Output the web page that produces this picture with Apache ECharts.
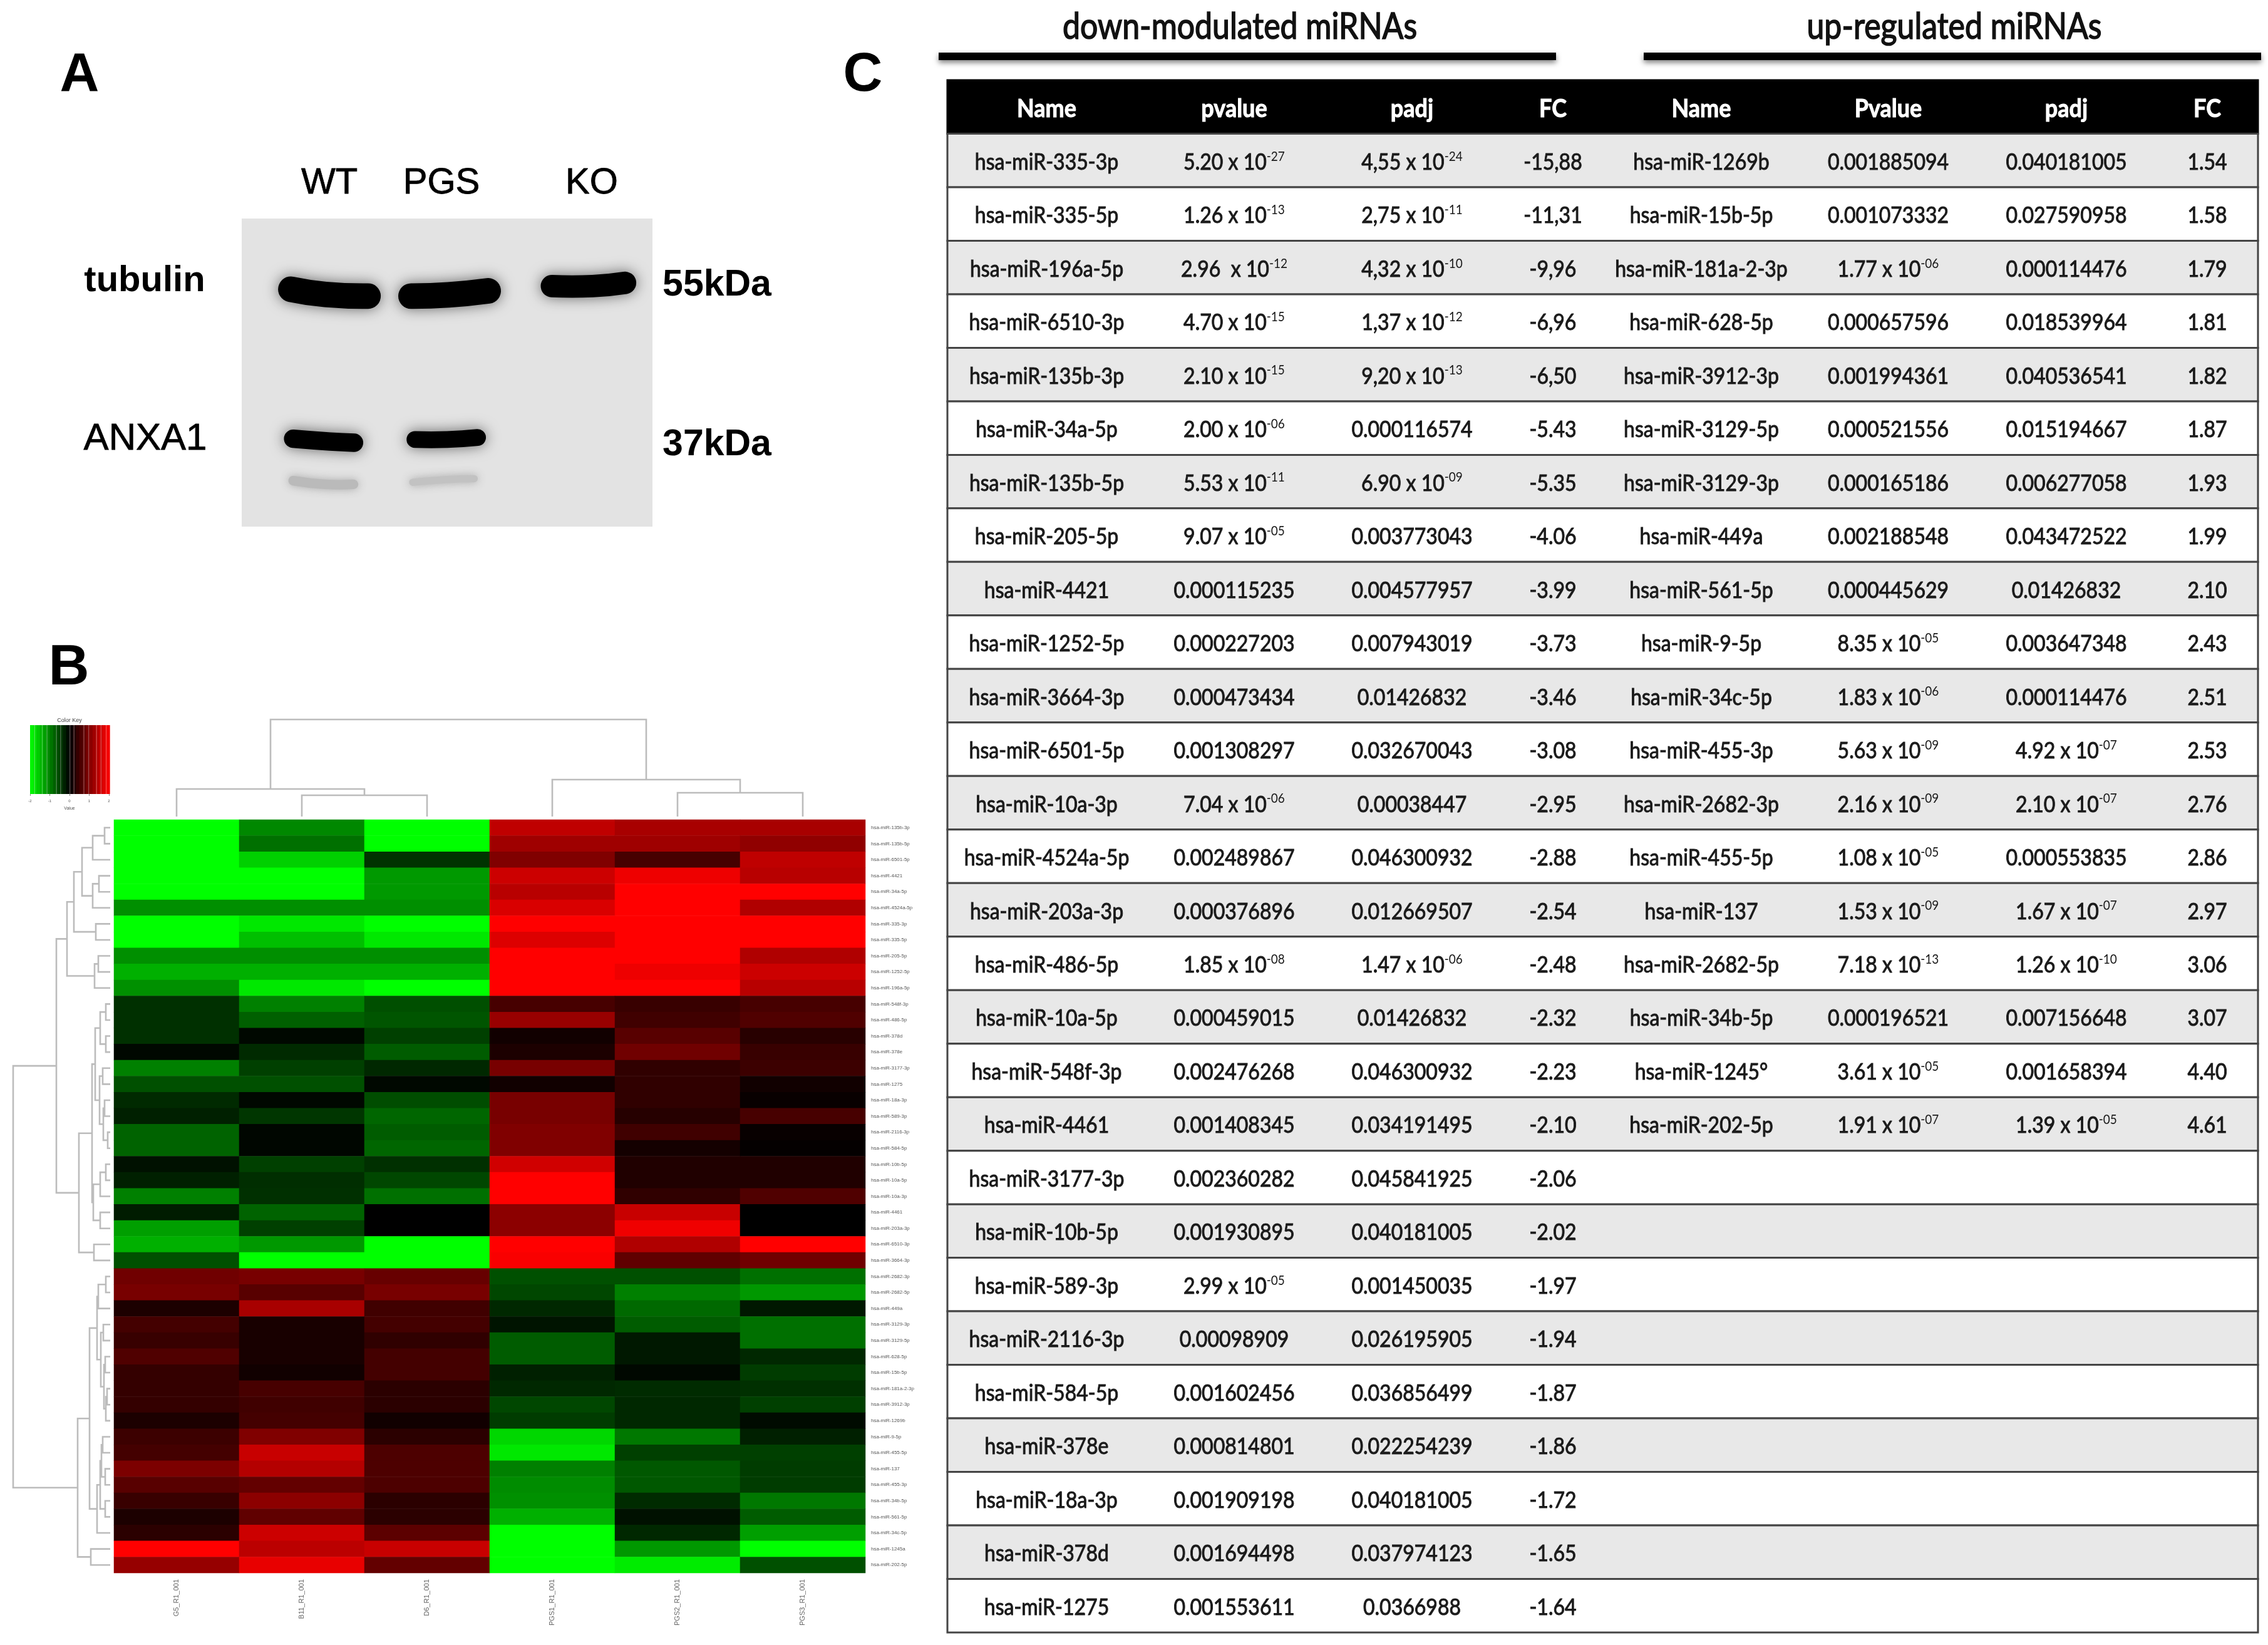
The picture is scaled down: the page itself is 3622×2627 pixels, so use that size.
<!DOCTYPE html>
<html><head><meta charset="utf-8">
<style>html,body{margin:0;padding:0;background:#fff}#main{width:3622px;height:2627px}</style>
<script src="https://cdn.jsdelivr.net/npm/echarts@6/dist/echarts.min.js"></script>
</head><body><div id="main"></div>
<script>
// ---------- DATA ----------
const heatSamples = ['G5_R1_001','B11_R1_001','D6_R1_001','PGS1_R1_001','PGS2_R1_001','PGS3_R1_001'];
const heatMirnas = ['hsa-miR-135b-3p','hsa-miR-135b-5p','hsa-miR-6501-5p','hsa-miR-4421','hsa-miR-34a-5p','hsa-miR-4524a-5p','hsa-miR-335-3p','hsa-miR-335-5p','hsa-miR-205-5p','hsa-miR-1252-5p','hsa-miR-196a-5p','hsa-miR-548f-3p','hsa-miR-486-5p','hsa-miR-378d','hsa-miR-378e','hsa-miR-3177-3p','hsa-miR-1275','hsa-miR-18a-3p','hsa-miR-589-3p','hsa-miR-2116-3p','hsa-miR-584-5p','hsa-miR-10b-5p','hsa-miR-10a-5p','hsa-miR-10a-3p','hsa-miR-4461','hsa-miR-203a-3p','hsa-miR-6510-3p','hsa-miR-3664-3p','hsa-miR-2682-3p','hsa-miR-2682-5p','hsa-miR-449a','hsa-miR-3129-3p','hsa-miR-3129-5p','hsa-miR-628-5p','hsa-miR-15b-5p','hsa-miR-181a-2-3p','hsa-miR-3912-3p','hsa-miR-1269b','hsa-miR-9-5p','hsa-miR-455-5p','hsa-miR-137','hsa-miR-455-3p','hsa-miR-34b-5p','hsa-miR-561-5p','hsa-miR-34c-5p','hsa-miR-1245a','hsa-miR-202-5p'];
const heatValues = [
[-2,-1.07,-2,1.5,1.32,1.32],[-2,-.88,-2,1.25,1.25,1.13],[-2,-1.63,-.4,1,.56,1.5],[-2,-2,-1.2,1.6,1.87,1.44],
[-2,-2,-1.2,1.44,2,2],[-1.12,-1.12,-1.12,1.7,2,1.38],[-2,-1.82,-2,2,2,2],[-2,-1.5,-1.82,1.73,2,2],
[-1.12,-1.12,-1.12,2,2,1.38],[-1.38,-1.38,-1.38,2,1.87,1.6],[-1.13,-1.82,-2,2,2,1.44],[-.38,-1,-.62,.56,.44,.56],
[-.38,-.75,-.67,1.2,.5,.63],[-.38,-.06,-.5,.13,.69,.31],[-.06,-.33,-.72,.22,.88,.44],[-1,-.5,-.31,.94,.38,.47],
[-.63,-.63,-.06,.13,.38,.13],[-.33,-.06,-.6,.94,.38,.06],[-.25,-.42,-.8,.94,.3,.56],[-.78,-.05,-.72,1,.5,.06],
[-.78,-.05,-.8,1,.16,.03],[-.13,-.5,-.38,1.63,.25,.25],[-.25,-.36,-.56,2,.25,.25],[-1,-.38,-.88,2,.38,.63],
[-.22,-.78,0,1.1,1.57,0],[-1.25,-.5,0,1.1,1.88,0],[-1.38,-1.19,-2,2,1.38,2],[-.63,-2,-2,1.95,.75,.88],
[.88,.94,.81,-.63,-.63,-.88],[.94,.69,.94,-.56,-1,-1.19],[.22,1.32,.5,-.31,-.82,-.19],[.53,.19,.53,-.16,-.72,-.88],
[.44,.19,.38,-.72,-.19,-.88],[.63,.19,.53,-.72,-.19,-.31],[.41,.13,.53,-.25,-.06,-.47],[.41,.56,.34,-.31,-.34,-.38],
[.41,.5,.34,-.56,-.31,-.5],[.22,.53,.13,-.47,-.31,-.09],[.47,1,.34,-1.69,-.94,-.25],[.53,1.57,.6,-1.82,-.5,-.5],
[.97,1.41,.6,-1,-.69,-.47],[.69,.78,.6,-1.1,-.69,-.47],[.44,1.1,.34,-1.13,-.34,-.94],[.22,.75,.34,-1.38,-.13,-.72],
[.34,1.6,.72,-2,-.31,-1.25],[2,1.47,1.57,-2,-1.19,-2],[1.18,1.82,.78,-2,-1.85,-.63]];
// hclust-style merge tables: negative = leaf (1-based), positive = earlier merge (1-based); third = height
const rowMerges = [[-1,-2,9],[1,-3,28],[-4,-5,18],[3,-6,28],[2,4,45],[-7,-8,23],[5,6,58],[-9,-10,19],[8,-11,25],[7,9,69],
[-12,-13,7],[-14,-15,7],[11,12,16],[-16,-17,12],[-18,-19,9],[-20,-21,4],[15,16,11],[14,17,17],[13,18,24],[-22,-23,7],[20,-24,16],[-25,-26,16],[21,22,27],[19,23,29],[-27,-28,26],[24,25,50],[10,26,86],
[-29,-30,7],[28,-31,19],[-32,-33,11],[-34,-35,8],[-36,-37,5],[32,-38,7],[31,33,10],[30,34,15],[29,35,21],[-39,-40,12],[-41,-42,8],[37,38,14],[-43,-44,8],[39,40,16],[41,-45,21],[36,42,33],[-46,-47,31],[43,44,52],[27,45,155]];
const colMerges = [[-2,-3,34],[-1,1,44],[-5,-6,38],[-4,3,59],[2,4,155]];
const keyBins = [-2,-1.83,-1.67,-1.5,-1.33,-1.17,-1,-.83,-.67,-.5,-.33,-.17,0,.17,.33,.5,.67,.83,1,1.17,1.33,1.5,1.67,1.83,2];
const keyStreaks = [-1.77,-1.38,-1.14,-.66,-.45,.02,.23,.73,.97,1.37,1.6,1.86];

const gelLanes = ['WT','PGS','KO'];
const gelProteins = ['tubulin','ANXA1'];
const gelMarkers = ['55kDa','37kDa'];
// band centre-lines in gel units, then thickness and darkness
const gelBandPaths = [
 [[88,177],[150,190],[226,194]],[[303,194],[370,191],[441,181]],[[555,169],[628,169],[686,161]],
 [[92,551],[158,558],[201,561]],[[310,553],[368,553],[422,548]],
 [[92,656],[148,665],[200,665]],[[306,660],[368,653],[416,651]]];
const gelBandThickness = [64,64,56,46,42,24,18];
const gelBandLevel = ['#000000','#000000','#000000','#000000','#000000','#bababa','#c2c2c2'];

const downName = ['hsa-miR-335-3p','hsa-miR-335-5p','hsa-miR-196a-5p','hsa-miR-6510-3p','hsa-miR-135b-3p','hsa-miR-34a-5p','hsa-miR-135b-5p','hsa-miR-205-5p','hsa-miR-4421','hsa-miR-1252-5p','hsa-miR-3664-3p','hsa-miR-6501-5p','hsa-miR-10a-3p','hsa-miR-4524a-5p','hsa-miR-203a-3p','hsa-miR-486-5p','hsa-miR-10a-5p','hsa-miR-548f-3p','hsa-miR-4461','hsa-miR-3177-3p','hsa-miR-10b-5p','hsa-miR-589-3p','hsa-miR-2116-3p','hsa-miR-584-5p','hsa-miR-378e','hsa-miR-18a-3p','hsa-miR-378d','hsa-miR-1275'];
const downP = ['5.20 x 10^-27','1.26 x 10^-13','2.96  x 10^-12','4.70 x 10^-15','2.10 x 10^-15','2.00 x 10^-06','5.53 x 10^-11','9.07 x 10^-05','0.000115235','0.000227203','0.000473434','0.001308297','7.04 x 10^-06','0.002489867','0.000376896','1.85 x 10^-08','0.000459015','0.002476268','0.001408345','0.002360282','0.001930895','2.99 x 10^-05','0.00098909','0.001602456','0.000814801','0.001909198','0.001694498','0.001553611'];
const downAdj = ['4,55 x 10^-24','2,75 x 10^-11','4,32 x 10^-10','1,37 x 10^-12','9,20 x 10^-13','0.000116574','6.90 x 10^-09','0.003773043','0.004577957','0.007943019','0.01426832','0.032670043','0.00038447','0.046300932','0.012669507','1.47 x 10^-06','0.01426832','0.046300932','0.034191495','0.045841925','0.040181005','0.001450035','0.026195905','0.036856499','0.022254239','0.040181005','0.037974123','0.0366988'];
const downFC = ['-15,88','-11,31','-9,96','-6,96','-6,50','-5.43','-5.35','-4.06','-3.99','-3.73','-3.46','-3.08','-2.95','-2.88','-2.54','-2.48','-2.32','-2.23','-2.10','-2.06','-2.02','-1.97','-1.94','-1.87','-1.86','-1.72','-1.65','-1.64'];
const upName = ['hsa-miR-1269b','hsa-miR-15b-5p','hsa-miR-181a-2-3p','hsa-miR-628-5p','hsa-miR-3912-3p','hsa-miR-3129-5p','hsa-miR-3129-3p','hsa-miR-449a','hsa-miR-561-5p','hsa-miR-9-5p','hsa-miR-34c-5p','hsa-miR-455-3p','hsa-miR-2682-3p','hsa-miR-455-5p','hsa-miR-137','hsa-miR-2682-5p','hsa-miR-34b-5p','hsa-miR-1245°','hsa-miR-202-5p'];
const upP = ['0.001885094','0.001073332','1.77 x 10^-06','0.000657596','0.001994361','0.000521556','0.000165186','0.002188548','0.000445629','8.35 x 10^-05','1.83 x 10^-06','5.63 x 10^-09','2.16 x 10^-09','1.08 x 10^-05','1.53 x 10^-09','7.18 x 10^-13','0.000196521','3.61 x 10^-05','1.91 x 10^-07'];
const upAdj = ['0.040181005','0.027590958','0.000114476','0.018539964','0.040536541','0.015194667','0.006277058','0.043472522','0.01426832','0.003647348','0.000114476','4.92 x 10^-07','2.10 x 10^-07','0.000553835','1.67 x 10^-07','1.26 x 10^-10','0.007156648','0.001658394','1.39 x 10^-05'];
const upFC = ['1.54','1.58','1.79','1.81','1.82','1.87','1.93','1.99','2.10','2.43','2.51','2.53','2.76','2.86','2.97','3.06','3.07','4.40','4.61'];
const tableHead = ['Name','pvalue','padj','FC','Name','Pvalue','padj','FC'];
const tableCols = [downName,downP,downAdj,downFC,upName,upP,upAdj,upFC];

// ---------- LAYOUT ----------
const colCentre = [1671.5,1971,2255,2480,2717,3015.5,3300,3525];
const tableX = [1513,3606];
const tableRows = ['head'].concat(downName);
const font = 'Lato, sans-serif';
const arial = '"Liberation Sans", Arial, sans-serif';

function dendroSegments(merges){
  const pos=[],h=[],segs=[];
  const get=r=>r<0?[-r-1+.5,0]:[pos[r-1],h[r-1]];
  merges.forEach((m,i)=>{
    const a=get(m[0]),b=get(m[1]);
    segs.push([a[0],a[1],b[0],b[1],m[2]]);
    pos[i]=(a[0]+b[0])/2;h[i]=m[2];
  });
  return segs;
}
const dendroStyle={stroke:'#bcbcbc',lineWidth:2.6,fill:null};

const tableCells=[];
tableHead.forEach((t,c)=>tableCells.push([colCentre[c],0,t,1]));
tableCols.forEach((col,c)=>col.forEach((t,r)=>tableCells.push([colCentre[c],r+1,t,0])));
function rich(t){
  const m=t.match(/^(.*)\^(-\d+)$/);
  return m?'{n|'+m[1]+'}{s|'+m[2]+'}':'{n|'+t+'}';
}
const heatData=[];
heatValues.forEach((row,r)=>row.forEach((v,c)=>heatData.push([c,r,v])));
const keyData=keyBins.slice(0,-1).map((b,i)=>[b,keyBins[i+1],(b+keyBins[i+1])/2]);

// y is the text baseline
const title=(text,x,y,size,weight,fam,color,embolden,scaleY)=>({type:'text',x,y:y-size*.28*(scaleY||1),scaleY:scaleY||1,silent:true,style:{text,fill:color||'#000',stroke:embolden?(color||'#000'):null,lineWidth:embolden||0,font:(weight||'normal')+' '+size+'px '+(fam||arial),align:'center',verticalAlign:'middle'}});

const chart=echarts.init(document.getElementById('main'),null,{renderer:'canvas',devicePixelRatio:1});
chart.setOption({
  animation:false,backgroundColor:'#ffffff',
  grid:[
    {left:386,top:349,width:656,height:492,show:true,backgroundColor:'#e3e3e3',borderWidth:0},
    {left:48,top:1158,width:126,height:110},
    {left:182,top:1149,width:1200,height:155},
    {left:21,top:1309,width:155,height:1203},
    {left:182,top:1309,width:1200,height:1203},
    {left:tableX[0],top:128,width:tableX[1]-tableX[0],height:2479}
  ],
  xAxis:[
    {gridIndex:0,type:'value',min:0,max:735,show:false},
    {gridIndex:1,type:'value',min:-2,max:2,interval:1,splitLine:{show:false},axisLine:{show:false},axisTick:{length:3,lineStyle:{color:'#888',width:1}},axisLabel:{fontSize:6,color:'#555',margin:8,fontFamily:arial},name:'Value',nameLocation:'middle',nameGap:20,nameTextStyle:{fontSize:7,color:'#555',fontFamily:arial}},
    {gridIndex:2,type:'value',min:0,max:6,show:false},
    {gridIndex:3,type:'value',min:0,max:155,inverse:true,show:false},
    {gridIndex:4,type:'category',data:heatSamples,axisLine:{show:false},axisTick:{show:false},splitLine:{show:false},axisLabel:{interval:0,rotate:90,margin:10,fontSize:11,color:'#666',fontFamily:arial}},
    {gridIndex:5,type:'value',min:tableX[0],max:tableX[1],show:false}
  ],
  yAxis:[
    {gridIndex:0,type:'value',min:0,max:771,inverse:true,show:false},
    {gridIndex:1,type:'value',min:0,max:1,show:false},
    {gridIndex:2,type:'value',min:0,max:155,show:false},
    {gridIndex:3,type:'value',min:0,max:47,inverse:true,show:false},
    {gridIndex:4,type:'category',inverse:true,position:'right',data:heatMirnas,axisLine:{show:false},axisTick:{show:false},splitLine:{show:false},axisLabel:{interval:0,margin:9,fontSize:8,color:'#555',fontFamily:arial}},
    {gridIndex:5,type:'category',inverse:true,data:tableRows,show:false}
  ],
  visualMap:{type:'continuous',show:false,min:-2,max:2,dimension:2,seriesIndex:[1,4],inRange:{color:['#00ff00','#000000','#ff0000']}},
  graphic:{elements:[
    title('A',127,145,87,'bold'),title('B',110,1093,90,'bold'),title('C',1378,145,87,'bold'),
    title(gelLanes[0],526,309,58,'normal',arial,'#000',.8),title(gelLanes[1],705,309,58,'normal',arial,'#000',.8),title(gelLanes[2],945,309,58,'normal',arial,'#000',.8),
    title(gelProteins[0],231,465,58,'bold'),title(gelProteins[1],232,718,60,'normal',arial,'#000',.8),
    title(gelMarkers[0],1145,472,59,'bold'),title(gelMarkers[1],1145,727,59,'bold'),
    title('Color Key',111,1153,9,'normal',arial,'#444'),
    title('down-modulated miRNAs',1980,59,50,'normal',font,'#111',1.4,1.18),
    title('up-regulated miRNAs',3121,59,50,'normal',font,'#111',1.4,1.18),
    {type:'rect',silent:true,shape:{x:1499,y:84,width:986,height:12},style:{fill:'#000',shadowBlur:8,shadowColor:'rgba(0,0,0,.5)',shadowOffsetY:4}},
    {type:'rect',silent:true,shape:{x:2625,y:84,width:986,height:12},style:{fill:'#000',shadowBlur:8,shadowColor:'rgba(0,0,0,.5)',shadowOffsetY:4}}
  ]},
  series:[
    {type:'custom',name:'blot',xAxisIndex:0,yAxisIndex:0,clip:false,silent:true,data:gelBandPaths.map((p,i)=>[i,p[0][0],p[0][1]]),
     renderItem(params,api){
       const i=params.dataIndex,pts=gelBandPaths[i].map(p=>api.coord(p));
       const w=api.size([0,gelBandThickness[i]])[1],col=gelBandLevel[i];
       return {type:'polyline',shape:{points:pts,smooth:.5},style:{stroke:col,fill:null,lineWidth:w,lineCap:'round',shadowBlur:i<5?22:14,shadowColor:i<5?'rgba(0,0,0,.55)':'rgba(165,165,165,.9)'}};
     }},
    {type:'custom',name:'key',xAxisIndex:1,yAxisIndex:1,silent:true,encode:{x:[0,1]},data:keyData,
     renderItem(params,api){
       const a=api.coord([api.value(0),0]),b=api.coord([api.value(1),1]);
       return {type:'rect',shape:{x:a[0],y:b[1],width:Math.ceil(b[0]-a[0])+1,height:a[1]-b[1]},style:{fill:api.visual('color')}};
     }},
    {type:'custom',name:'keyStreaks',xAxisIndex:1,yAxisIndex:1,silent:true,z:3,data:keyStreaks.map(v=>[v]),encode:{x:0},
     renderItem(params,api){
       const a=api.coord([api.value(0),0]),b=api.coord([api.value(0),1]);
       return {type:'line',shape:{x1:a[0],y1:a[1],x2:b[0],y2:b[1]},style:{stroke:'rgba(255,255,255,.28)',lineWidth:1.5}};
     }},
    {type:'custom',name:'colDendro',xAxisIndex:2,yAxisIndex:2,silent:true,clip:false,data:dendroSegments(colMerges),
     renderItem(params,api){
       const v=[0,1,2,3,4].map(d=>api.value(d));
       return {type:'polyline',shape:{points:[api.coord([v[0],v[1]]),api.coord([v[0],v[4]]),api.coord([v[2],v[4]]),api.coord([v[2],v[3]])]},style:dendroStyle};
     }},
    {type:'heatmap',name:'expression',xAxisIndex:4,yAxisIndex:4,silent:true,data:heatData,itemStyle:{borderWidth:0},progressive:0},
    {type:'custom',name:'rowDendro',xAxisIndex:3,yAxisIndex:3,silent:true,clip:false,data:dendroSegments(rowMerges),
     renderItem(params,api){
       const v=[0,1,2,3,4].map(d=>api.value(d));
       return {type:'polyline',shape:{points:[api.coord([v[1],v[0]]),api.coord([v[4],v[0]]),api.coord([v[4],v[2]]),api.coord([v[3],v[2]])]},style:dendroStyle};
     }},
    {type:'custom',name:'rows',xAxisIndex:5,yAxisIndex:5,silent:true,clip:false,z:2,data:tableRows.map((r,i)=>[tableX[0],i]),
     renderItem(params,api){
       const i=params.dataIndex,c=api.coord([tableX[0],i]),s=api.size([tableX[1]-tableX[0],1]);
       const fill=i===0?'#000000':(i%2?'#e8e8e8':'#ffffff');
       return {type:'rect',shape:{x:c[0],y:c[1]-s[1]/2,width:s[0],height:s[1]},style:{fill,stroke:i===0?'#000':'#444',lineWidth:3}};
     }},
    {type:'custom',name:'cells',xAxisIndex:5,yAxisIndex:5,silent:true,clip:false,z:3,data:tableCells.map(c=>[c[0],c[1]]),
     renderItem(params,api){
       const cell=tableCells[params.dataIndex],p=api.coord([cell[0],cell[1]]),head=cell[3]===1;
       const ink=head?'#fff':'#1a1a1a';
       return {type:'text',x:p[0],y:p[1]+3,scaleY:1.12,style:{text:rich(cell[2]),align:'center',verticalAlign:'middle',
         rich:{n:{fontFamily:font,fontSize:head?36:32,fontWeight:head?'bold':'normal',fill:ink,color:ink,stroke:ink,lineWidth:.9,lineHeight:36},
               s:{fontFamily:font,fontSize:19,fill:'#1a1a1a',color:'#1a1a1a',verticalAlign:'top',lineHeight:22}}}};
     }}
  ]
});
</script></body></html>
